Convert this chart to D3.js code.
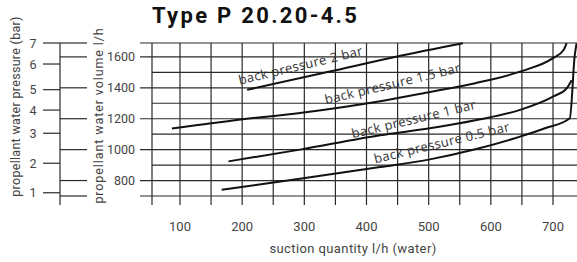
<!DOCTYPE html>
<html><head><meta charset="utf-8">
<script src="https://cdn.jsdelivr.net/npm/d3@7"></script>
<style>html,body{margin:0;padding:0;background:#fff;} svg{display:block;}</style>
</head><body>
<svg id="chart" width="577" height="262"></svg>
<script>
// ---------- data ----------
const title = "Type P 20.20-4.5";
const xLabel = "suction quantity l/h (water)";
const yLabelVolume = "propellant water volume l/h";
const yLabelPressure = "propellant water pressure (bar)";

const xTickLabels = [100, 200, 300, 400, 500, 600, 700];
const xGridValues = [100, 150, 200, 250, 300, 350, 400, 450, 500, 550, 600, 650, 700];
const yGridValues = [700, 800, 900, 1000, 1100, 1200, 1300, 1400, 1500, 1600];
const yTickLabels = [800, 1000, 1200, 1400, 1600];
const yLongTicks = [700, 800, 1000, 1200, 1400, 1600, 1690];

const pressureLabels = [1, 2, 3, 4, 5, 6, 7];
const pressureAtVolume = [721, 912, 1106, 1256, 1388, 1554, 1690];

const seriesNames = ["back pressure 2 bar", "back pressure 1.5 bar", "back pressure 1 bar", "back pressure 0.5 bar"];
const suction2 = [208, 341, 449, 555];
const volume2 = [1387, 1505, 1603, 1689];
const suction15 = [87, 201, 293, 422, 502, 575, 647, 700, 717, 722];
const volume15 = [1136, 1196, 1237, 1313, 1373, 1430, 1505, 1592, 1645, 1689];
const suction1 = [178, 293, 422, 502, 575, 647, 700, 722, 730];
const volume1 = [924, 1000, 1093, 1138, 1190, 1257, 1343, 1397, 1449];
const suction05 = [167, 293, 422, 502, 575, 647, 687, 727, 735, 738];
const volume05 = [741, 811, 887, 937, 1002, 1084, 1138, 1203, 1611, 1689];

// label anchors (data units): suction, volume
const labelSuction = [196, 335, 378, 414];
const labelVolume = [1420, 1293, 1073, 911];

// ---------- drawing ----------
const svg = d3.select("#chart");
const W = 577, H = 262;
const x = d3.scaleLinear().domain([55, 750]).range([152, 584.1]);
const y = d3.scaleLinear().domain([700, 1690]).range([196, 43]);
const xMin = 55, yTop = 1690;
const gridColor = "#2a2a2a";
const textColor = "#444";
const tickFont = "Roboto, 'DejaVu Sans', sans-serif";

svg.append("rect").attr("width", W).attr("height", H).attr("fill", "#fff");

// title
svg.append("text").text(title)
  .attr("x", x(xMin)).attr("y", 23)
  .attr("font-family", tickFont).attr("font-weight", "bold")
  .attr("font-size", 22).attr("letter-spacing", 2.3).attr("fill", "#111");

// horizontal gridlines
const g = svg.append("g");
g.selectAll("line.h").data(yGridValues.concat([yTop])).join("line")
  .attr("x1", d => yLongTicks.includes(d) ? 140 : x(xMin))
  .attr("x2", W)
  .attr("y1", d => y(d)).attr("y2", d => y(d))
  .attr("stroke", gridColor).attr("stroke-width", 1.2);

// vertical gridlines (incl. left border)
g.selectAll("line.v").data([xMin].concat(xGridValues)).join("line")
  .attr("x1", d => x(d)).attr("x2", d => x(d))
  .attr("y1", y(yTop)).attr("y2", y(700) + 9)
  .attr("stroke", gridColor).attr("stroke-width", 1.2);

// x tick labels
svg.selectAll("text.xt").data(xTickLabels).join("text")
  .text(d => d)
  .attr("x", d => x(d)).attr("y", 231)
  .attr("text-anchor", "middle")
  .attr("font-family", tickFont).attr("font-size", 13).attr("fill", textColor);

svg.append("text").text(xLabel)
  .attr("x", 353).attr("y", 253).attr("text-anchor", "middle")
  .attr("font-family", tickFont).attr("font-size", 13).attr("letter-spacing", 0.4).attr("fill", textColor);

// volume tick labels
svg.selectAll("text.yt").data(yTickLabels).join("text")
  .text(d => d)
  .attr("x", 135).attr("y", d => y(d))
  .attr("dy", "0.36em")
  .attr("text-anchor", "end")
  .attr("font-family", tickFont).attr("font-size", 12.5).attr("fill", textColor);

// pressure axis
const px = 60;
svg.append("line").attr("x1", px).attr("x2", px)
  .attr("y1", y(yTop)).attr("y2", y(700) + 9)
  .attr("stroke", gridColor).attr("stroke-width", 1.2);
svg.selectAll("line.pl").data(pressureAtVolume).join("line")
  .attr("x1", 43).attr("x2", px)
  .attr("y1", d => y(d)).attr("y2", d => y(d))
  .attr("stroke", gridColor).attr("stroke-width", 1.2);
svg.selectAll("line.pr").data(yLongTicks).join("line")
  .attr("x1", px).attr("x2", 87)
  .attr("y1", d => y(d)).attr("y2", d => y(d))
  .attr("stroke", gridColor).attr("stroke-width", 1.2);
svg.selectAll("text.pt").data(pressureLabels).join("text")
  .text(d => d)
  .attr("x", 33).attr("y", (d, i) => y(pressureAtVolume[i]))
  .attr("dy", "0.36em").attr("text-anchor", "middle")
  .attr("font-family", tickFont).attr("font-size", 12.5).attr("fill", textColor);

// rotated axis titles
svg.append("text").text(yLabelPressure)
  .attr("transform", "translate(20,106.5) rotate(-90)")
  .attr("text-anchor", "middle")
  .attr("font-family", tickFont).attr("font-size", 12.5).attr("letter-spacing", 0.3).attr("fill", textColor);
svg.append("text").text(yLabelVolume)
  .attr("transform", "translate(103,115.5) rotate(-90)")
  .attr("text-anchor", "middle")
  .attr("font-family", tickFont).attr("font-size", 12.5).attr("letter-spacing", 0.9).attr("fill", textColor);

// curves
const series = [
  [suction2, volume2],
  [suction15, volume15],
  [suction1, volume1],
  [suction05, volume05]
];
const line = d3.line().x(d => x(d[0])).y(d => y(d[1])).curve(d3.curveMonotoneX);
svg.append("defs").append("clipPath").attr("id", "clip")
  .append("rect").attr("x", x(xMin)).attr("y", y(yTop) - 1)
  .attr("width", W - x(xMin)).attr("height", y(700) - y(yTop) + 2);
svg.append("g").attr("clip-path", "url(#clip)")
  .selectAll("path").data(series).join("path")
  .attr("d", s => line(s[0].map((v, i) => [v, s[1][i]])))
  .attr("fill", "none").attr("stroke", "#111").attr("stroke-width", 2);

// curve labels
svg.selectAll("text.cl").data(seriesNames).join("text")
  .text(d => d)
  .attr("transform", (d, i) => `translate(${x(labelSuction[i])},${y(labelVolume[i])}) rotate(-13.5)`)
  .attr("font-family", "'Open Sans', sans-serif").attr("font-size", 13)
  .attr("letter-spacing", 0.4)
  .attr("fill", "#333");
</script>
</body></html>
